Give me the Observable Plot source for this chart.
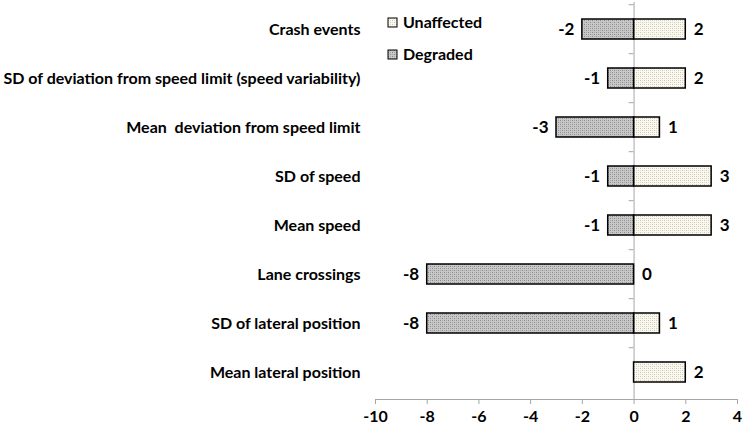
<!DOCTYPE html>
<html>
<head>
<meta charset="utf-8">
<script src="https://cdn.jsdelivr.net/npm/d3@7"></script>
<script src="https://cdn.jsdelivr.net/npm/@observablehq/plot@0.6"></script>
<style>
  html, body { margin: 0; padding: 0; background: #fff; }
  #chart { width: 743px; height: 433px; }
</style>
</head>
<body>
<div id="chart"></div>
<script>
const categories = [
  "Crash events",
  "SD of deviation from speed limit (speed variability)",
  "Mean  deviation from speed limit",
  "SD of speed",
  "Mean speed",
  "Lane crossings",
  "SD of lateral position",
  "Mean lateral position"
];
const unaffected = [2, 2, 1, 3, 3, 0, 1, 2];
const degraded = [-2, -1, -3, -1, -1, -8, -8, null];
const seriesNames = ["Unaffected", "Degraded"];
const xTicks = [-10, -8, -6, -4, -2, 0, 2, 4];

const rows = [];
categories.forEach((c, i) => {
  rows.push({cat: c, series: "Unaffected", value: unaffected[i]});
  if (degraded[i] != null) rows.push({cat: c, series: "Degraded", value: degraded[i]});
});
const uRows = rows.filter(d => d.series === "Unaffected");
const dRows = rows.filter(d => d.series === "Degraded");

const font = "Lato, 'Open Sans', sans-serif";
const bw = 397 / categories.length;

const chart = Plot.plot({
  width: 743,
  height: 433,
  marginLeft: 375,
  marginRight: 6,
  marginTop: 2,
  marginBottom: 34,
  style: {fontFamily: font, fontSize: "16px", fontWeight: "bold", color: "#000", background: "#fff"},
  x: {domain: [-10, 4], ticks: xTicks},
  y: {domain: categories, paddingInner: 0.6, paddingOuter: 0.3},
  marks: [
    Plot.ruleY(categories, {y: d => d, x1: -0.19, x2: 0, dy: -bw / 2, stroke: "#a6a6a6"}),
    Plot.ruleX([0], {stroke: "#a6a6a6"}),
    Plot.frame({anchor: "bottom", stroke: "#a6a6a6"}),
    Plot.axisX({ticks: xTicks, tickSize: 5, tickPadding: 6, stroke: "#a6a6a6", fill: "#000",
      tickFormat: d => String(d), fontSize: 16, fontWeight: "bold", label: null}),
    Plot.axisY({tickSize: 0, tickPadding: 15, fill: "#000", fontSize: 16, fontWeight: "bold",
      textAnchor: "end", label: null, anchor: "left"}),
    Plot.barX(rows, {y: "cat", x1: 0, x2: "value",
      fill: d => d.series === "Unaffected" ? "url(#patU)" : "url(#patD)",
      stroke: "#000", strokeWidth: 1.5}),
    Plot.text(uRows, {y: "cat", x: "value", text: d => String(d.value), textAnchor: "start", dx: 8,
      fontSize: 17, fontWeight: "bold", fill: "#000"}),
    Plot.text(dRows, {y: "cat", x: "value", text: d => String(d.value), textAnchor: "end", dx: -8,
      fontSize: 17, fontWeight: "bold", fill: "#000"})
  ]
});

// patterns + legend
const svg = d3.select(chart);
const defs = svg.insert("defs", ":first-child");
function pat(id, bg, dot, dot2) {
  const p = defs.append("pattern").attr("id", id).attr("patternUnits", "userSpaceOnUse")
    .attr("width", 4).attr("height", 4);
  p.append("rect").attr("width", 4).attr("height", 4).attr("fill", bg);
  p.append("rect").attr("x", 0).attr("y", 0).attr("width", 1).attr("height", 1).attr("fill", dot);
  p.append("rect").attr("x", 2).attr("y", 2).attr("width", 1).attr("height", 1).attr("fill", dot);
  p.append("rect").attr("x", 2).attr("y", 0).attr("width", 1).attr("height", 1).attr("fill", dot2);
  p.append("rect").attr("x", 0).attr("y", 2).attr("width", 1).attr("height", 1).attr("fill", dot2);
}
pat("patU", "#f9f8f2", "#cfc7a8", "#e4dfcb");
pat("patD", "#c8c8c8", "#8a8a8a", "#a8a8a8");

const legend = svg.append("g").attr("font-family", font).attr("font-weight", "bold")
  .attr("font-size", 16).attr("text-anchor", "start");
seriesNames.forEach((name, i) => {
  const y = 18 + i * 32;
  legend.append("rect").attr("x", 388).attr("y", y).attr("width", 9).attr("height", 9)
    .attr("fill", i === 0 ? "url(#patU)" : "url(#patD)").attr("stroke", "#000").attr("stroke-width", 1);
  legend.append("text").attr("x", 403).attr("y", y + 4.5).attr("dy", "0.35em")
    .attr("text-anchor", "start").attr("fill", "#000").text(name);
});

document.getElementById("chart").appendChild(chart);
</script>
</body>
</html>
